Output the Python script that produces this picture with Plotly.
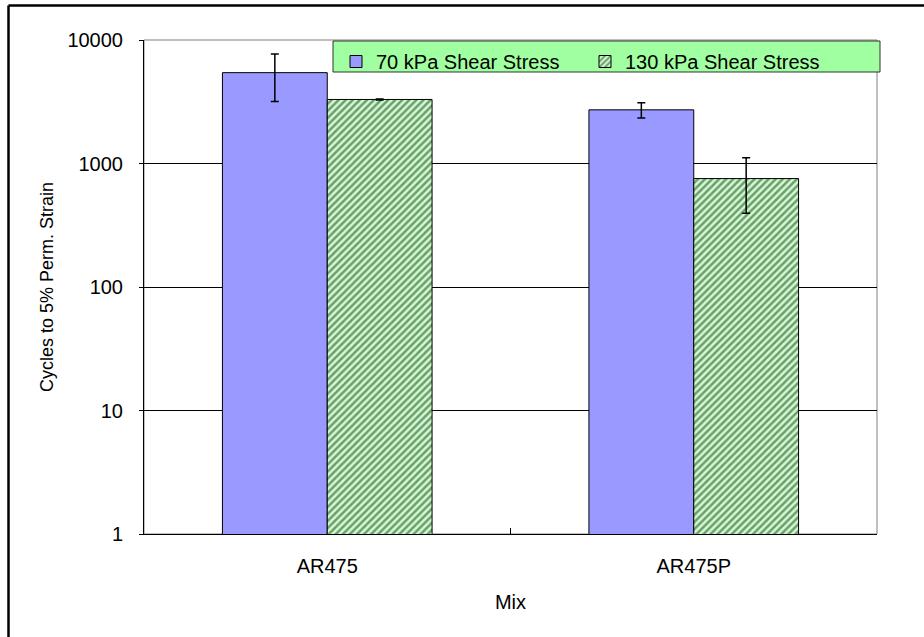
import plotly.graph_objects as go

categories = ["AR475", "AR475P"]
series_names = ["70 kPa Shear Stress", "130 kPa Shear Stress"]
values_70 = [5440, 2720]
errors_70 = [2260, 380]
values_130 = [3300, 755]
errors_130 = [30, 360]
y_ticks = [1, 10, 100, 1000, 10000]

W, H = 924, 637
L, R, T, B = 144, 47, 40, 103
pw, ph = W - L - R, H - T - B

def px_x(p):
    return (p - L) / pw

def px_y(p):
    return (H - B - p) / ph

FAM = "Liberation Sans, Arial, sans-serif"
font = dict(family=FAM, size=20, color="black")

fig = go.Figure()
fig.add_trace(go.Bar(
    x=categories, y=values_70, name=series_names[0],
    marker=dict(color="#9999FF", line=dict(color="black", width=1)),
    error_y=dict(type="data", array=errors_70, visible=True,
                 color="black", thickness=1.5, width=4),
))
fig.add_trace(go.Bar(
    x=categories, y=values_130, name=series_names[1],
    marker=dict(color="#CCFFCC", line=dict(color="black", width=1),
                pattern=dict(shape="/", fgcolor="#1c321c", bgcolor="#CCFFCC",
                             size=5, solidity=0.5)),
    error_y=dict(type="data", array=errors_130, visible=True,
                 color="black", thickness=1.5, width=4),
))

shapes = [
    # plot area border (gray)
    dict(type="rect", xref="paper", yref="paper", x0=0, x1=1, y0=0, y1=1,
         line=dict(color="#808080", width=1), layer="below"),
    # legend box
    dict(type="rect", xref="paper", yref="paper",
         x0=px_x(333), x1=px_x(880), y0=px_y(72), y1=px_y(41),
         fillcolor="#A0FFA0", line=dict(color="#333333", width=1), layer="above"),
    # outer frame: top and left lines
    dict(type="line", xref="paper", yref="paper",
         x0=px_x(8.5), x1=px_x(930), y0=px_y(5.5), y1=px_y(5.5),
         line=dict(color="black", width=2.5)),
    dict(type="line", xref="paper", yref="paper",
         x0=px_x(8.5), x1=px_x(8.5), y0=px_y(5.5), y1=px_y(640),
         line=dict(color="black", width=2.5)),
]

fig.update_layout(
    width=W, height=H,
    margin=dict(l=L, r=R, t=T, b=B, pad=0, autoexpand=False),
    paper_bgcolor="white", plot_bgcolor="white",
    font=font,
    barmode="group", bargap=0.428, bargroupgap=0,
    showlegend=True,
    legend=dict(orientation="h", x=px_x(336), y=px_y(42), xanchor="left", yanchor="top",
                bgcolor="rgba(0,0,0,0)", borderwidth=0,
                font=font,
                entrywidth=204, entrywidthmode="pixels", itemwidth=30,
                traceorder="normal"),
    shapes=shapes,
    xaxis=dict(title=dict(text="Mix", standoff=18, font=dict(family=FAM, size=20, color="black")),
               type="category",
               showline=True, linecolor="black", linewidth=1,
               ticks="inside", tickson="boundaries", ticklen=6, tickcolor="black",
               ticklabelstandoff=14,
               showgrid=False, mirror=False),
    yaxis=dict(title=dict(text="Cycles to 5% Perm. Strain", standoff=9,
                          font=dict(family=FAM, size=18, color="black")),
               type="log",
               range=[0, 4], tickvals=y_ticks, ticktext=[str(v) for v in y_ticks],
               showline=True, linecolor="black", linewidth=1,
               ticks="outside", ticklen=4, tickcolor="black",
               ticklabelstandoff=12,
               showgrid=True, gridcolor="black", gridwidth=1, zeroline=False),
)

fig.write_html("out.html", config={"displayModeBar": False},
               post_script="document.body.style.margin='0';document.body.style.overflow='hidden';")
